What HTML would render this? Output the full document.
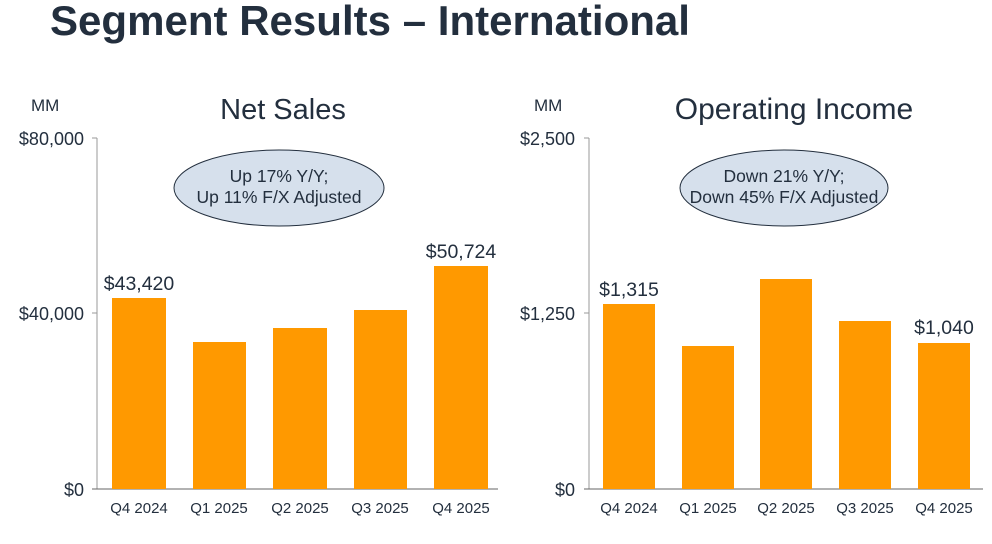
<!DOCTYPE html>
<html><head><meta charset="utf-8"><style>
body{margin:0;background:#fff;}
svg{display:block;font-family:"Liberation Sans","DejaVu Sans",sans-serif;}
</style></head><body>
<svg width="992" height="544" viewBox="0 0 992 544">
<text x="50" y="35" font-size="42" font-weight="bold" fill="#232f3e" textLength="640" lengthAdjust="spacingAndGlyphs">Segment Results – International</text>
<g fill="#232f3e" font-size="18">
<text x="31" y="111" font-size="17">MM</text>
<text x="283" y="119" font-size="29" text-anchor="middle">Net Sales</text>
<text x="84" y="145" text-anchor="end">$80,000</text>
<text x="84" y="320" text-anchor="end">$40,000</text>
<text x="84" y="496" text-anchor="end">$0</text>
<line x1="97" y1="138" x2="97" y2="489" stroke="#999"/>
<line x1="92" y1="138" x2="97" y2="138" stroke="#999"/>
<line x1="92" y1="313" x2="97" y2="313" stroke="#999"/>
<line x1="92" y1="489" x2="498" y2="489" stroke="#666"/>
<g fill="#ff9900">
<rect x="112" y="298" width="54" height="191"/>
<rect x="193" y="342" width="53" height="147"/>
<rect x="273" y="328" width="54" height="161"/>
<rect x="354" y="310" width="53" height="179"/>
<rect x="434" y="266" width="54" height="223"/>
</g>
<text x="139" y="290" font-size="19.5" text-anchor="middle">$43,420</text>
<text x="461" y="258" font-size="19.5" text-anchor="middle">$50,724</text>
<g font-size="15" text-anchor="middle">
<text x="139" y="513">Q4 2024</text><text x="219" y="513">Q1 2025</text><text x="300" y="513">Q2 2025</text><text x="380" y="513">Q3 2025</text><text x="461" y="513">Q4 2025</text>
</g>
<ellipse cx="279" cy="188" rx="105" ry="38" fill="#d6e0ec" stroke="#232f3e" stroke-width="1"/>
<text x="279" y="182" font-size="17.5" text-anchor="middle">Up 17% Y/Y;</text>
<text x="279" y="203" font-size="17.5" text-anchor="middle">Up 11% F/X Adjusted</text>

<text x="534" y="111" font-size="17">MM</text>
<text x="794" y="119" font-size="30" text-anchor="middle">Operating Income</text>
<text x="575" y="145" text-anchor="end">$2,500</text>
<text x="575" y="320" text-anchor="end">$1,250</text>
<text x="575" y="496" text-anchor="end">$0</text>
<line x1="589" y1="138" x2="589" y2="489" stroke="#999"/>
<line x1="584" y1="138" x2="589" y2="138" stroke="#999"/>
<line x1="584" y1="313" x2="589" y2="313" stroke="#999"/>
<line x1="584" y1="489" x2="983" y2="489" stroke="#666"/>
<g fill="#ff9900">
<rect x="603" y="304" width="52" height="185"/>
<rect x="682" y="346" width="52" height="143"/>
<rect x="760" y="279" width="52" height="210"/>
<rect x="839" y="321" width="52" height="168"/>
<rect x="918" y="343" width="52" height="146"/>
</g>
<text x="629" y="296" font-size="19.5" text-anchor="middle">$1,315</text>
<text x="944" y="334" font-size="19.5" text-anchor="middle">$1,040</text>
<g font-size="15" text-anchor="middle">
<text x="629" y="513">Q4 2024</text><text x="708" y="513">Q1 2025</text><text x="786" y="513">Q2 2025</text><text x="865" y="513">Q3 2025</text><text x="944" y="513">Q4 2025</text>
</g>
<ellipse cx="784" cy="188" rx="104" ry="38" fill="#d6e0ec" stroke="#232f3e" stroke-width="1"/>
<text x="784" y="182" font-size="17.5" text-anchor="middle">Down 21% Y/Y;</text>
<text x="784" y="203" font-size="17.5" text-anchor="middle">Down 45% F/X Adjusted</text>
</g>
</svg>
</body></html>
